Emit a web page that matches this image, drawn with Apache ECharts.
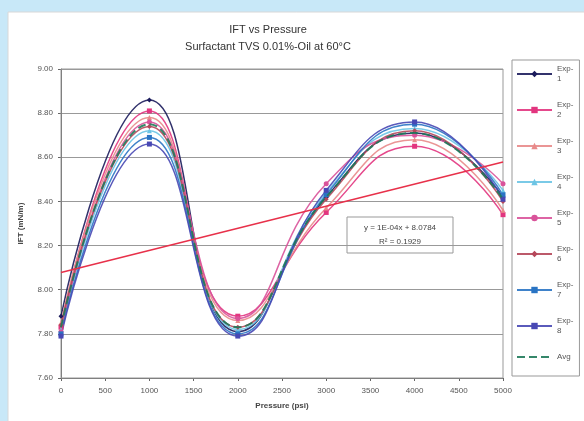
<!DOCTYPE html>
<html>
<head>
<meta charset="utf-8">
<script src="https://cdn.jsdelivr.net/npm/echarts@6/dist/echarts.min.js"></script>
<style>
html, body { margin: 0; padding: 0; background: #c8e8f8; }
#chart { width: 584px; height: 421px; }
</style>
</head>
<body>
<div id="chart"></div>
<script>
// pressure (psi)
var pressures = [0, 1000, 2000, 3000, 4000, 5000];
var exp1 = [7.88, 8.86, 7.81, 8.42, 8.71, 8.42];
var exp2 = [7.83, 8.81, 7.88, 8.35, 8.65, 8.34];
var exp3 = [7.85, 8.78, 7.86, 8.37, 8.68, 8.36];
var exp4 = [7.82, 8.72, 7.82, 8.44, 8.73, 8.45];
var exp5 = [7.81, 8.76, 7.87, 8.48, 8.70, 8.48];
var exp6 = [7.84, 8.74, 7.83, 8.41, 8.72, 8.40];
var exp7 = [7.80, 8.69, 7.80, 8.43, 8.75, 8.43];
var exp8 = [7.79, 8.66, 7.79, 8.45, 8.76, 8.41];
var avg  = [7.83, 8.75, 7.83, 8.42, 8.71, 8.41];
var seriesNames = ['Exp-1', 'Exp-2', 'Exp-3', 'Exp-4', 'Exp-5', 'Exp-6', 'Exp-7', 'Exp-8', 'Avg'];
// linear trendline printed on the chart
var trendSlope = 1e-4;
var trendIntercept = 8.0784;
var trendRange = [0, 5000];

var colors  = ['#1c1c5c', '#e2357f', '#e88a8a', '#6cc4e4', '#d9539a', '#b5475a', '#2a74c4', '#4848b4', '#1f7a5a'];
var symbols = ['diamond', 'rect', 'triangle', 'triangle', 'circle', 'diamond', 'rect', 'rect', 'none'];
var allValues = [exp1, exp2, exp3, exp4, exp5, exp6, exp7, exp8, avg];

function pairs(vals) {
    var res = [];
    for (var i = 0; i < pressures.length; i++) {
        res.push([pressures[i], vals[i]]);
    }
    return res;
}

var series = [];
for (var s = 0; s < allValues.length; s++) {
    var isAvg = seriesNames[s] == 'Avg';
    series.push({
        name: seriesNames[s],
        type: 'line',
        data: pairs(allValues[s]),
        smooth: 0.5,
        symbol: symbols[s],
        symbolSize: 5,
        showSymbol: !isAvg,
        z: isAvg ? 3 : 2,
        lineStyle: { color: colors[s], width: isAvg ? 2 : 1.5, type: isAvg ? [8, 4] : 'solid', opacity: 0.9 },
        itemStyle: { color: colors[s] }
    });
}
series.push({
    name: 'trend',
    type: 'line',
    data: [[trendRange[0], trendIntercept + trendSlope * trendRange[0]],
           [trendRange[1], trendIntercept + trendSlope * trendRange[1]]],
    symbol: 'none',
    z: 4,
    lineStyle: { color: '#e8304a', width: 1.5 },
    silent: true
});

// legend entries, Avg shows its line only
var legendData = seriesNames.map(function (n) {
    return n == 'Avg' ? { name: n, itemStyle: { opacity: 0 } } : { name: n };
});

var myChart = echarts.init(document.getElementById('chart'));
var option = {
    backgroundColor: '#c8e8f8',
    animation: false,
    graphic: [
        { type: 'rect', z: -10, shape: { x: 8, y: 12, width: 580, height: 415 },
          style: { fill: '#ffffff', stroke: '#d8d8d8', lineWidth: 1 } },
        { type: 'text', style: { x: 268, y: 24, text: 'IFT vs Pressure', font: '11px "Liberation Sans"', fill: '#333', textAlign: 'center' } },
        { type: 'text', style: { x: 268, y: 41, text: 'Surfactant TVS 0.01%-Oil at 60°C', font: '11px "Liberation Sans"', fill: '#333', textAlign: 'center' } },
        { type: 'group', x: 347, y: 217, z: 10, children: [
            { type: 'rect', shape: { x: 0, y: 0, width: 106, height: 36 },
              style: { fill: '#fff', stroke: '#999', lineWidth: 1 } },
            { type: 'text', style: { x: 53, y: 7, text: 'y = 1E-04x + 8.0784', font: '8px "Liberation Sans"', fill: '#444', textAlign: 'center' } },
            { type: 'text', style: { x: 53, y: 21, text: 'R² = 0.1929', font: '8px "Liberation Sans"', fill: '#444', textAlign: 'center' } }
        ] },
        // plot area border
        { type: 'rect', z: 1, silent: true, shape: { x: 61, y: 69, width: 442, height: 309 },
          style: { fill: 'none', stroke: '#999', lineWidth: 1 } }
    ],
    legend: {
        data: legendData,
        orient: 'vertical',
        left: 512,
        top: 60,
        width: 64,
        height: 325,
        padding: [4, 6, 14, 4],
        itemGap: 16,
        itemWidth: 35,
        itemHeight: 8,
        backgroundColor: '#fff',
        borderColor: '#999',
        borderWidth: 1,
        textStyle: { fontSize: 8, color: '#555', fontFamily: 'Liberation Sans', lineHeight: 10 },
        formatter: function (name) { return name.replace('-', '-\n'); }
    },
    grid: { left: 61, right: 81, top: 69, bottom: 43 },
    xAxis: {
        type: 'value',
        min: 0, max: 5000, interval: 500,
        name: 'Pressure (psi)',
        nameLocation: 'middle',
        nameGap: 24,
        nameTextStyle: { fontSize: 8, fontWeight: 'bold', color: '#444', fontFamily: 'Liberation Sans' },
        axisLine: { lineStyle: { color: '#666' } },
        axisTick: { show: true, length: 3, lineStyle: { color: '#666' } },
        axisLabel: { fontSize: 8, color: '#555', fontFamily: 'Liberation Sans', margin: 9,
                     formatter: function (v) { return String(v); } },
        splitLine: { show: false }
    },
    yAxis: {
        type: 'value',
        min: 7.6, max: 9.0, interval: 0.2,
        name: 'IFT (mN/m)',
        nameLocation: 'middle',
        nameGap: 36,
        nameTextStyle: { fontSize: 8, fontWeight: 'bold', color: '#444', fontFamily: 'Liberation Sans' },
        axisLine: { show: true, lineStyle: { color: '#666' } },
        axisTick: { show: true, length: 3, lineStyle: { color: '#666' } },
        axisLabel: { fontSize: 8, color: '#555', fontFamily: 'Liberation Sans', margin: 8,
                     formatter: function (v) { return v.toFixed(2); } },
        splitLine: { show: true, lineStyle: { color: '#999', width: 1 } }
    },
    series: series
};
myChart.setOption(option, true);
</script>
</body>
</html>
